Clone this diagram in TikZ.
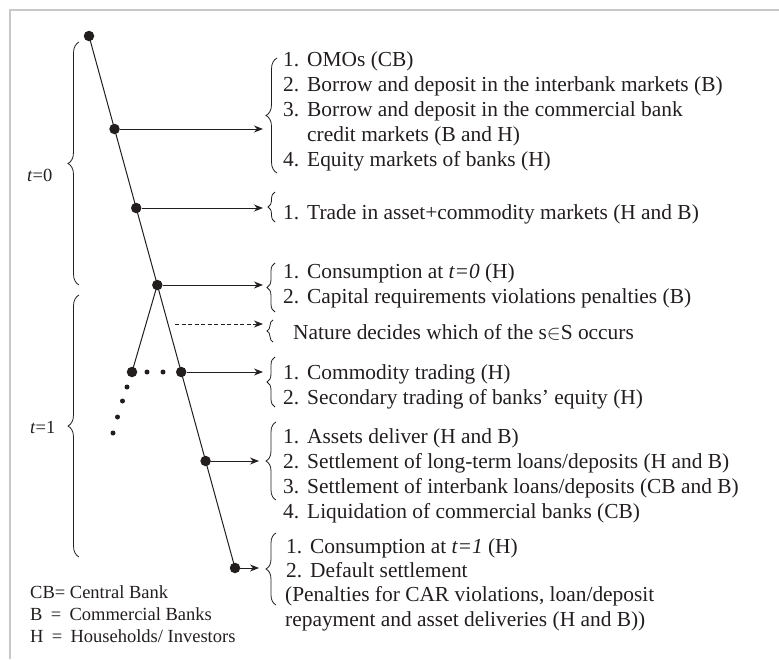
\documentclass[tikz,border=0pt]{standalone}
\usepackage{fontspec}
\setmainfont{Liberation Serif}
\usetikzlibrary{decorations.pathreplacing,arrows.meta}
\definecolor{ink}{RGB}{35,30,30}
\definecolor{framecol}{RGB}{200,200,200}
\newcommand{\itm}[1]{\makebox[24pt][l]{#1}}
\begin{document}
\begin{tikzpicture}[x=1pt,y=-1pt,
  dot/.style={circle,fill=ink,inner sep=0pt,minimum size=10.5pt},
  sdot/.style={circle,fill=ink,inner sep=0pt,minimum size=5pt},
  conn/.style={draw=ink,line width=1pt},
  arr/.style={conn,-{Stealth[length=9pt,width=7pt]}},
  brc/.style={draw=ink,line width=0.8pt,decorate,decoration={brace,amplitude=#1}},
  txt/.style={anchor=base west,inner sep=0pt,text=ink,font=\fontsize{21.4}{25}\selectfont},
  leg/.style={anchor=base west,inner sep=0pt,text=ink,font=\fontsize{18.5}{22}\selectfont}]
\useasboundingbox (0,0) rectangle (779,659);
\draw[framecol,line width=1.5pt] (10,659) -- (10,10) -- (779,10);

% main path dots
\node[dot] (a0) at (89,36) {};
\node[dot] (a1) at (114.5,129) {};
\node[dot] (a2) at (136.2,208) {};
\node[dot] (a3) at (157.3,285) {};
\node[dot] (a4) at (181.2,372) {};
\node[dot] (a5) at (205.6,461) {};
\node[dot] (a6) at (235,568) {};
\draw[conn] (a0.center) -- (a6.center);

% branch
\node[dot] (b0) at (132,372) {};
\draw[conn] (a3.center) -- (b0.center);
\node[sdot] (s1) at (147,372) {};
\node[sdot] (s2) at (163,372) {};
\node[sdot] (v1) at (127,387) {};
\node[sdot] (v2) at (122.5,401) {};
\node[sdot] (v3) at (117.5,417) {};
\node[sdot] (v4) at (113,433) {};

% arrow ends
\coordinate (e1) at (263,129);
\coordinate (e2) at (263,208);
\coordinate (e3) at (263,285);
\coordinate (d0) at (175,324);
\coordinate (e4) at (263,324);
\coordinate (e5) at (263,372);
\coordinate (e6) at (259,461);
\coordinate (e7) at (259,568);
\draw[arr] (a1) -- (e1);
\draw[arr] (a2) -- (e2);
\draw[arr] (a3) -- (e3);
\draw[arr,dash pattern=on 4pt off 2.5pt] (d0) -- (e4);
\draw[arr] (a4) -- (e5);
\draw[arr] (a5) -- (e6);
\draw[arr] (a6) -- (e7);

% braces
\draw[brc=11pt] (277,173) -- (277,58);
\draw[brc=7pt] (275,222) -- (275,192);
\draw[brc=8pt] (275,312) -- (275,263);
\draw[brc=6pt] (273,342) -- (273,320);
\draw[brc=8pt] (275,407) -- (275,357);
\draw[brc=10pt] (276,500) -- (276,422);
\draw[brc=10pt] (276,605) -- (276,533);
\draw[brc=11pt] (79,285) -- (79,42);
\draw[brc=11pt] (79,557) -- (79,295);

% t labels
\node[leg] (t0) at (27,181) {\textit{t}=0};
\node[leg] (t1) at (30,433) {\textit{t}=1};

% texts
\node[txt] (l11) at (283,66) {\itm{1.}OMOs (CB)};
\node[txt] (l12) at (283,91) {\itm{2.}Borrow and deposit in the interbank markets (B)};
\node[txt] (l13) at (283,116) {\itm{3.}Borrow and deposit in the commercial bank};
\node[txt] (l14) at (307,141) {credit markets (B and H)};
\node[txt] (l15) at (283,166) {\itm{4.}Equity markets of banks (H)};

\node[txt] (l21) at (283,219) {\itm{1.}Trade in asset+commodity markets (H and B)};

\node[txt] (l31) at (283,278) {\itm{1.}Consumption at \textit{t=0} (H)};
\node[txt] (l32) at (283,303) {\itm{2.}Capital requirements violations penalties (B)};

\node[txt] (l41) at (293,339) {Nature decides which of the s$\in$S occurs};

\node[txt] (l51) at (283,379) {\itm{1.}Commodity trading (H)};
\node[txt] (l52) at (283,404) {\itm{2.}Secondary trading of banks’ equity (H)};

\node[txt] (l61) at (283,443) {\itm{1.}Assets deliver (H and B)};
\node[txt] (l62) at (283,468) {\itm{2.}Settlement of long-term loans/deposits (H and B)};
\node[txt] (l63) at (283,493) {\itm{3.}Settlement of interbank loans/deposits (CB and B)};
\node[txt] (l64) at (283,518) {\itm{4.}Liquidation of commercial banks (CB)};

\node[txt] (l71) at (286,553) {\itm{1.}Consumption at \textit{t=1} (H)};
\node[txt] (l72) at (286,577) {\itm{2.}Default settlement};
\node[txt] (l73) at (285,601) {(Penalties for CAR violations, loan/deposit};
\node[txt] (l74) at (285,626) {repayment and asset deliveries (H and B))};

% legend
\node[leg] (g1) at (30,598) {CB= Central Bank};
\node[leg] (g2) at (30,620) {B\makebox[27pt][c]{=}Commercial Banks};
\node[leg] (g3) at (30,642) {H\makebox[27pt][c]{=}Households/ Investors};
\end{tikzpicture}
\end{document}
